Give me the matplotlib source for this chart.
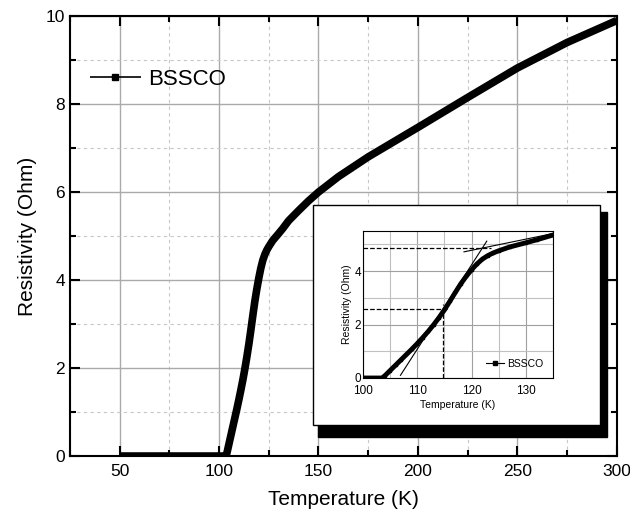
import numpy as np
import matplotlib
matplotlib.use('Agg')
import matplotlib.pyplot as plt
from matplotlib.patches import Rectangle
from matplotlib.ticker import MultipleLocator

plt.rcParams['font.family'] = ['Liberation Sans', 'DejaVu Sans']

# данные
temp = [50, 60, 70, 80, 90, 100, 102, 103.5, 104, 105, 106, 107, 108, 109, 110,
        111, 112, 113, 114, 115, 116, 117, 118, 119, 120, 121, 122, 123, 124, 125,
        127, 130, 132, 135, 140, 145, 150, 160, 175, 200, 225, 250, 275, 300]
res = [0.0, 0.0, 0.0, 0.0, 0.0, 0.0, 0.0, 0.0, 0.08, 0.28, 0.48, 0.68, 0.88, 1.08, 1.29,
       1.51, 1.74, 1.99, 2.26, 2.55, 2.87, 3.2, 3.52, 3.8, 4.05, 4.27, 4.45, 4.58, 4.68, 4.76,
       4.9, 5.06, 5.17, 5.35, 5.58, 5.8, 6.0, 6.35, 6.8, 7.47, 8.15, 8.82, 9.4, 9.9]

# вспомогательные линии на вставке
tan1_x = [106.9, 122.8]
tan1_y = [0.1, 5.12]
tan2_x = [118.6, 135.6]
tan2_y = [4.72, 5.43]
t_half = 114.8
r_half = 2.58
r_top = 4.88
t_top = 123.5

fig = plt.figure(figsize=(6.3, 5.2), dpi=100)
ax = fig.add_axes([0.111, 0.123, 0.868, 0.846])

ax.plot(temp, res, color='black', lw=5.5, marker='s', ms=2, label='BSSCO',
        solid_capstyle='butt')
ax.set_xlim(25, 300)
ax.set_ylim(0, 10)
ax.xaxis.set_major_locator(MultipleLocator(50))
ax.xaxis.set_minor_locator(MultipleLocator(25))
ax.yaxis.set_major_locator(MultipleLocator(2))
ax.yaxis.set_minor_locator(MultipleLocator(1))
ax.grid(which='major', color='#aaaaaa', lw=1, ls='-')
ax.grid(which='minor', color='#c8c8c8', lw=0.8, ls=(0, (3, 3)))
ax.tick_params(which='both', direction='in', top=True, right=True, width=1.5,
               labelsize=12.5)
ax.tick_params(which='major', length=7)
ax.tick_params(which='minor', length=4)
ax.tick_params(axis='x', pad=6)
for s in ax.spines.values():
    s.set_linewidth(1.5)
ax.set_xlabel('Temperature (K)', fontsize=15, labelpad=8)
ax.set_ylabel('Resistivity (Ohm)', fontsize=15, labelpad=6)
leg = ax.legend(loc='upper left', bbox_to_anchor=(0.0, 0.925), frameon=False,
                fontsize=16, handlelength=2.3, handletextpad=0.3)
for h in leg.legend_handles:
    h.set_linewidth(1.2)
    h.set_markersize(5)

# рамка вставки с тенью
fig.patches.append(Rectangle((318 / 630, 1 - 437 / 520), 289 / 630, 225 / 520,
                             transform=fig.transFigure, facecolor='black',
                             edgecolor='black', zorder=5))
fig.patches.append(Rectangle((313 / 630, 1 - 425 / 520), 287 / 630, 220 / 520,
                             transform=fig.transFigure, facecolor='white',
                             edgecolor='black', lw=1, zorder=6))

ins = fig.add_axes([363 / 630, 1 - 378 / 520, 190 / 630, 147 / 520])
ins.set_zorder(10)
ins.plot(temp, res, color='black', lw=3.5, marker='s', ms=1.5, label='BSSCO')
ins.plot(tan1_x, tan1_y, color='black', lw=0.8)
ins.plot(tan2_x, tan2_y, color='black', lw=0.8)
ins.plot([100, t_top], [r_top, r_top], color='black', lw=0.9, ls='--')
ins.plot([100, t_half + 1], [r_half, r_half], color='black', lw=0.9, ls='--')
ins.plot([t_half, t_half], [0, r_half + 0.2], color='black', lw=0.9, ls='--')
ins.set_xlim(100, 135)
ins.set_ylim(0, 5.5)
ins.xaxis.set_major_locator(MultipleLocator(10))
ins.xaxis.set_minor_locator(MultipleLocator(5))
ins.yaxis.set_major_locator(MultipleLocator(2))
ins.yaxis.set_minor_locator(MultipleLocator(1))
ins.grid(which='major', color='#a0a0a0', lw=0.8)
ins.grid(which='minor', color='#c0c0c0', lw=0.8)
ins.tick_params(which='both', direction='in', length=0, labelsize=8.5)
ins.tick_params(axis='x', pad=5)
ins.tick_params(axis='y', pad=1.5)
ins.set_xlabel('Temperature (K)', fontsize=7.5, labelpad=2)
ins.set_ylabel('Resistivity (Ohm)', fontsize=7.5, labelpad=2)
ileg = ins.legend(loc='lower right', frameon=False, fontsize=7.5,
                  handlelength=1.8, handletextpad=0.3)
for h in ileg.legend_handles:
    h.set_linewidth(0.8)
    h.set_markersize(3)

fig.savefig('out.png', dpi=100)
